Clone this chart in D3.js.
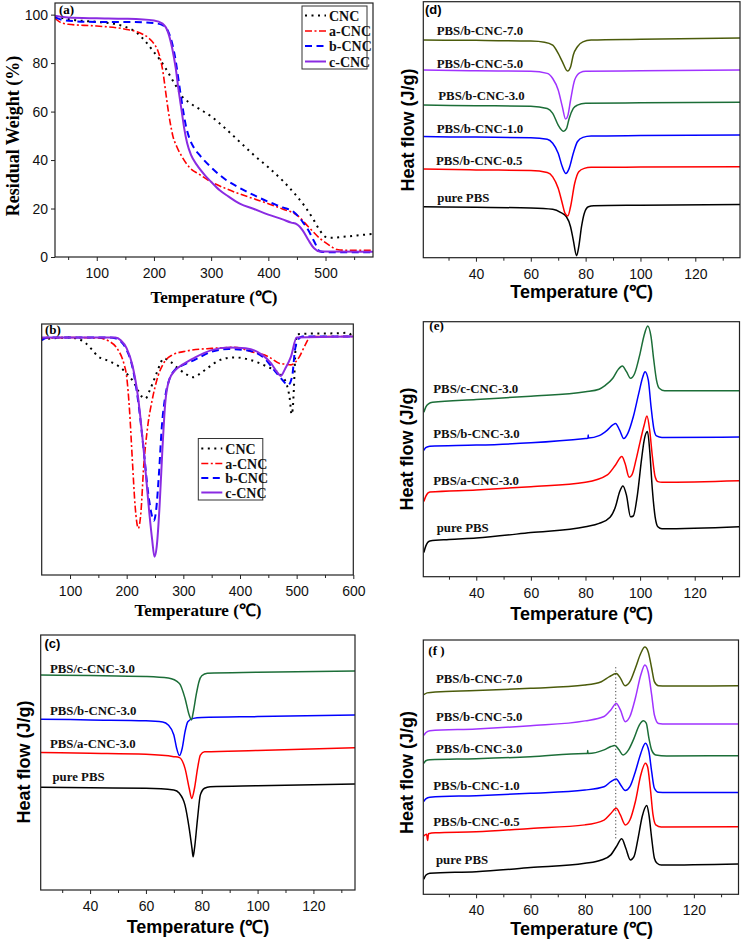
<!DOCTYPE html>
<html><head><meta charset="utf-8">
<script src="https://cdn.jsdelivr.net/npm/d3@7/dist/d3.min.js"></script>
<style>body{margin:0;background:#fff}</style>
</head><body>
<svg id="chart" width="742" height="944"></svg>
<script>
// ---------------- DATA ----------------
// (a) TGA: [temperature, residual weight %]
const tgaCNC = [[27,99.3],[40,98.6],[60,97.8],[100,97],[130,96.2],[150,95],[170,92.5],[185,89],[200,84.5],[210,81.5],[220,78],[230,74],[240,70],[250,66],[260,64],[280,61],[300,58],[325,53],[350,47.5],[375,42],[400,37],[425,31.5],[450,25],[465,20.5],[480,15],[490,11],[500,8.3],[510,7.9],[530,8.3],[555,8.9],[583,9.5]];
const tgaA = [[27,98.5],[35,97],[50,96],[100,95.3],[150,94],[175,92.5],[190,90.5],[200,88],[207,85],[212,81],[216,76],[220,69],[224,62],[228,56],[233,50],[240,45.5],[250,41],[262,37],[280,34],[300,31],[325,28.3],[350,26],[375,24],[400,22],[425,19.8],[450,17.3],[470,12.5],[490,7.7],[500,5.9],[510,4.3],[520,3.1],[535,2.8],[583,2.8]];
const tgaB = [[27,99],[40,97.8],[60,97.3],[100,97],[150,97],[200,96.5],[215,95.7],[225,93],[232,88],[238,81],[243,73],[248,65],[252,59],[256,54],[262,49],[270,45],[280,42],[300,37],[325,32],[350,28.5],[375,25.5],[400,22.8],[425,20.5],[445,18.5],[460,14.5],[470,11],[480,6.5],[490,2.4],[500,2],[583,2]];
const tgaC = [[27,99.5],[50,98.8],[100,98.5],[150,98.3],[200,97.6],[215,96.3],[225,92.5],[232,86],[238,78],[243,69],[248,61],[253,53],[258,47],[265,42],[275,38],[290,33.5],[300,31],[315,27.5],[330,25],[350,22],[375,19.8],[400,17.5],[425,15.5],[440,14.2],[450,13.5],[460,11],[470,7],[480,3.6],[490,2.3],[583,2.2]];

// (b) DTG: [temperature, relative signal]
const dtgCNC = [[50,93.9],[70,94.3],[100,94.6],[115,94],[127,92.5],[140,89.5],[150,87],[160,86],[171,85],[185,83.3],[194,81.7],[205,79],[212,77],[220,73.5],[227,71],[233,70.3],[241,73.7],[247,77],[253,80.5],[259,84],[265,86.3],[277,85],[290,82.5],[305,80],[318,78.8],[330,80.3],[342,82.3],[365,85.7],[389,86.7],[418,85.7],[448,83],[465,81],[475,79],[483,75.5],[488,70],[491,64],[493,66],[495,73.7],[498,90],[501,95.9],[530,96.2],[570,96.3],[590,96.5],[598,95.2]];
const dtgA = [[50,94.3],[100,94.6],[150,94.4],[170,93],[185,89.6],[195,84.3],[200,79],[205,65.7],[210,45.8],[215,27.2],[220.5,18.6],[225,24.6],[230,43.2],[237,59],[245,69.7],[255,79],[265,84.3],[280,87.6],[300,89],[350,90.3],[390,90.7],[420,89],[450,87],[470,84.3],[480,84],[490,83.7],[505,87],[515,91.6],[525,95],[600,95]];
const dtgB = [[50,93.5],[60,94.6],[100,94.6],[170,94.6],[180,94.3],[190,93],[200,89.6],[210,83],[220,69.7],[230,49.8],[238,32.5],[245,23.2],[248,21.6],[252,25.9],[257,40.5],[262,59],[268,71],[275,77.7],[285,81.7],[300,83.7],[320,85.7],[350,89],[380,90],[410,89.6],[440,87],[460,81.7],[475,77.7],[485,75.7],[492,79],[497,89.6],[502,93.6],[510,95],[600,95]];
const dtgC = [[50,94.6],[100,94.6],[180,94.6],[190,93.4],[200,90.3],[210,83.7],[220,71],[230,49.8],[240,24.6],[245,14],[249,7.3],[253,11.3],[258,27.2],[263,49.8],[268,68.4],[275,77.7],[285,81.4],[300,84],[320,86.6],[350,89.6],[380,90.6],[410,90.3],[440,87.6],[455,84.3],[465,81],[472,79.3],[480,82.3],[490,87],[500,94.6],[600,95]];

// (c) DSC cooling: [temperature, relative heat flow]
const cPure = [[22.3,40.3],[40,40.1],[60,39.9],[70,39.2],[72,37.9],[74,33.3],[75.5,24.2],[76.5,16.3],[76.9,13],[77.4,16.3],[78.5,28.1],[79.5,37.3],[81,39.9],[83,40.5],[100,40.9],[134.9,41.6]];
const cA = [[22.3,53.9],[40,53.6],[60,53.2],[70,52.3],[72,51.9],[74,47.7],[75.5,39.9],[76.4,35.9],[77.4,39.9],[78.5,47.7],[79.5,52.9],[81,54.2],[100,54.7],[134.9,55.8]];
const cB = [[22.3,67],[40,66.7],[60,66.4],[66,65.9],[68,64.7],[70,60.8],[71,55.6],[72,52.7],[73,55.6],[74,62],[75,66],[77,67.3],[80,67.6],[100,68],[134.9,68.6]];
const cC = [[22.3,84.3],[40,84.1],[60,83.7],[68,83.1],[72,81],[74,75.2],[75.5,68.6],[76.3,66.7],[77,70],[78,76.5],[79,81.7],[80,84],[82,85],[100,85.4],[134.9,85.9]];

// (d) DSC: [temperature, relative heat flow]
const dPure = [[20.8,19.9],[40,19.7],[60,19.4],[68,18.9],[71,17.6],[73,16],[74.5,12.1],[75.5,6.9],[76.7,0.8],[77.5,4.3],[78.5,12.1],[79.5,17.3],[81,19.9],[83,20.3],[100,20.5],[136.3,20.8]];
const d05 = [[20.8,34.6],[40,34.3],[60,34.1],[66,33.3],[68,31.6],[70,27.1],[71.5,21.2],[72.5,17.3],[73.5,16.3],[74.5,19.9],[76,29],[77.5,33.6],[79.5,34.9],[82,35.3],[100,35.4],[136.3,35.5]];
const d10 = [[20.8,47.3],[40,47.1],[60,46.9],[66,46.3],[68,44.7],[70,40.8],[71.5,35.5],[72.8,32.9],[74,34.9],[75.5,40.8],[77,45.3],[79,47],[82,47.5],[100,47.7],[136.3,47.9]];
const d30 = [[20.8,59.6],[40,59.4],[60,59.2],[66,58.3],[68,56.4],[70,51.8],[71.3,49.8],[72,49.4],[73,50.4],[74,54.4],[75.5,58.3],[77,59.6],[80,60.3],[100,60.5],[136.3,60.7]];
const d50 = [[20.8,73.3],[40,73],[60,72.8],[66,72],[68,70],[70,65.5],[71.5,59],[72.7,54.2],[73.5,55.5],[74.5,61.5],[76,69.4],[78,72.3],[80,72.8],[100,73],[136.3,73.3]];
const d70 = [[20.8,85],[40,84.9],[60,84.6],[65,84.2],[68,83],[70,79.8],[71.5,76.6],[73.4,72.9],[74.5,74.5],[75.5,79.2],[77,82.4],[79,84.3],[82,85],[100,85.3],[136.3,85.8]];

// (e) DSC heating: [temperature, relative heat flow]
const ePure = [[20.8,9.5],[21.5,12],[23,14],[30,14.6],[40,15.2],[60,17.3],[80,19.6],[85,20.9],[89,23.3],[91,27.5],[92.5,33.3],[93.7,35.6],[95,32],[96.5,23.5],[97.5,23.8],[99,32],[100.5,45.8],[101.5,53.6],[102.7,56.9],[103.5,49.7],[104.5,34],[105.5,23.5],[106.5,19.6],[108,18.8],[136.3,19.6]];
const eA = [[20.8,29.5],[21.5,31.5],[23,33.2],[40,34],[60,35.3],[80,37],[88,39.9],[91,43.8],[93.3,47.1],[94.5,44.4],[96,39],[97,39.9],[98.5,45.8],[100,52.9],[101.5,59.5],[102.5,63],[103.5,57.5],[104.5,47.1],[105.5,39.2],[106.5,37.3],[108,37],[136.3,37.6]];
const eB = [[20.8,49.5],[21.5,50.6],[23,51.2],[40,51.6],[60,52.5],[80,54.2],[80.9,54.3],[81,55.6],[81.1,54.4],[85,55.3],[88,57.5],[90,59.5],[91,60.1],[92.5,57.5],[94,54.2],[95.5,56.2],[97.5,62.7],[99.5,71.9],[101,78.4],[101.8,80.4],[103,77.1],[104,66.7],[105,58.2],[106,55.2],[108,54.6],[136.3,54.8]];
const eC = [[20.8,64.5],[21.5,66.5],[22.5,67.8],[24,68.4],[40,69.5],[60,70.8],[80,72.5],[85,73.5],[87,74.8],[90,77.8],[92,81.3],[93.5,82.6],[95,80.4],[96.5,77.8],[98,79.7],[100,87.6],[101.5,94.8],[102.8,98.3],[104,94.1],[105,85],[106,77.1],[107,73.9],[109,72.9],[136.3,72.9]];

// (f) DSC heating: [temperature, relative heat flow]
const fPure = [[20.8,5.9],[21.5,7.5],[23,8.3],[40,8.9],[60,10.5],[80,12.2],[86,13.5],[89.5,15.5],[91.5,18.7],[93.5,21.8],[95,18.1],[96.7,13.5],[98,14.8],[99.5,22],[101,30.5],[102.7,34.9],[103.5,31.2],[104.5,22],[105.5,14.2],[106.5,12.2],[108,11.5],[136.3,11.9]];
const f05 = [[20.8,23],[21.8,23.6],[22.2,21.2],[22.5,23.8],[25,24.2],[40,24.6],[60,25.9],[80,27.3],[87,29.2],[89.5,31.8],[91.5,33.8],[93,31.2],[94.8,27.3],[96.5,29.2],[98.5,36.4],[100.5,46.9],[102.2,51.5],[103,50.2],[104,41.7],[105,31.2],[106,27.3],[108,26.5],[136.3,26.6]];
const f10 = [[20.8,36.5],[21.5,37.5],[23,38.2],[40,38.8],[60,39.7],[80,41],[87,42.3],[89.5,44.3],[91.5,45.3],[93,43.2],[94.8,40.8],[96.5,42.3],[98.5,48.2],[100.5,55.4],[102.2,59.4],[103.5,56.1],[104.5,48.2],[105.5,41.7],[107,40.1],[110,40],[136.3,40]];
const f30 = [[20.8,51.5],[21.5,52.5],[23,52.9],[40,53.3],[60,54.1],[80,55.4],[80.9,55.4],[81,56.5],[81.1,55.4],[87,56.8],[89.5,58.1],[91,58.5],[92.5,56.8],[94,54.8],[96,56.8],[98,61.3],[100,66.6],[101.5,68.2],[102.5,67.3],[103.5,61.3],[104.5,56.7],[106,54.8],[110,54.4],[136.3,54.5]];
const f50 = [[20.8,62.5],[21.5,63.5],[23,64.3],[40,65],[60,66.3],[80,68.2],[87,69.9],[89.5,72.5],[91.5,75],[93,72.5],[94.8,67.9],[96.5,69.9],[98.5,77.1],[100.5,86.2],[102,90.2],[103.2,87.5],[104.5,78.4],[105.5,70.5],[107,67.2],[110,67],[136.3,67]];
const f70 = [[20.8,78.5],[22,79.2],[25,79.6],[40,80.1],[60,81],[80,82.3],[86,83.6],[89,85.6],[91.5,86.8],[93,85],[94.7,82],[96.5,83.6],[98.5,88.9],[100.5,94.8],[102,97.2],[103.2,95.4],[104.5,88.9],[105.5,83.6],[107,82],[110,81.9],[136.3,82]];
const fGuideTemp = 91.3;
const fGuideRange = [22, 89.5];

// tick labels
const ticksTGA = [100,200,300,400,500];
const minorTGA = [50,150,250,350,450,550];
const ticksTGAy = [0,20,40,60,80,100];
const ticksDTG = [100,200,300,400,500,600];
const minorDTG = [150,250,350,450,550];
const ticksDSC = [40,60,80,100,120];
const minorDSC = [30,50,70,90,110,130];

// series names
const cncNames = ["CNC","a-CNC","b-CNC","c-CNC"];
const cNames = ["pure PBS","PBS/a-CNC-3.0","PBS/b-CNC-3.0","PBS/c-CNC-3.0"];
const dNames = ["pure PBS","PBS/b-CNC-0.5","PBS/b-CNC-1.0","PBS/b-CNC-3.0","PBS/b-CNC-5.0","PBS/b-CNC-7.0"];

// ---------------- DRAW ----------------
const svg = d3.select("#chart");
svg.append("rect").attr("width",742).attr("height",944).attr("fill","#fff");
const SERIF = "'Liberation Serif','Times New Roman',serif";
const SANS = "'Liberation Sans',Arial,sans-serif";
const COL = {black:"#000",red:"#ff0000",blue:"#0000ff",violet:"#8a2be2",green:"#1c6e38",purple:"#a033ff",olive:"#4b5b0b"};

function makePanel(p){
  const g = svg.append("g");
  const x = d3.scaleLinear().domain(p.xd).range([p.l,p.r]);
  const y = d3.scaleLinear().domain(p.yd).range([p.b,p.t]);
  const ax = g.append("g").attr("transform",`translate(0,${p.b})`)
    .call(d3.axisBottom(x).tickValues(p.xt).tickSize(4).tickPadding(7).tickFormat(d3.format("d")));
  ax.select(".domain").remove();
  ax.selectAll("text").attr("font-family",SANS).attr("font-size",14).attr("fill","#111");
  ax.selectAll("line").attr("stroke","#222");
  if(p.xm){
    const am = g.append("g").attr("transform",`translate(0,${p.b})`)
      .call(d3.axisBottom(x).tickValues(p.xm).tickSize(3).tickFormat(""));
    am.select(".domain").remove(); am.selectAll("line").attr("stroke","#222");
  }
  if(p.yt){
    const ay = g.append("g").attr("transform",`translate(${p.l},0)`)
      .call(d3.axisLeft(y).tickValues(p.yt).tickSize(4).tickPadding(3).tickFormat(d3.format("d")));
    ay.select(".domain").remove();
    ay.selectAll("text").attr("font-family",SANS).attr("font-size",14).attr("fill","#111");
    ay.selectAll("line").attr("stroke","#222");
  }
  const clipId = "clip"+p.id;
  g.append("clipPath").attr("id",clipId).append("rect")
    .attr("x",p.l).attr("y",p.t-2).attr("width",p.r-p.l).attr("height",p.b-p.t+4);
  const line = d3.line().x(d=>x(d[0])).y(d=>y(d[1])).curve(d3.curveMonotoneX);
  const lg = g.append("g").attr("clip-path",`url(#${clipId})`);
  p.series.forEach(s=>{
    lg.append("path").attr("d",line(s.data)).attr("fill","none")
      .attr("stroke",s.color).attr("stroke-width",s.w||1.5)
      .attr("stroke-dasharray",s.dash||null).attr("stroke-linejoin","round");
  });
  g.append("rect").attr("x",p.l).attr("y",p.t).attr("width",p.r-p.l).attr("height",p.b-p.t)
    .attr("fill","none").attr("stroke","#222").attr("stroke-width",1.2);
  g.append("text").attr("x",p.tag[1]).attr("y",p.tag[2]).text(p.tag[0])
    .attr("font-family",p.tag[3]==="sans"?SANS:SERIF).attr("font-weight","bold").attr("font-size",13);
  g.append("text").attr("x",p.xtitle[1]).attr("y",p.xtitle[2]).attr("text-anchor","middle")
    .attr("font-family",p.serifTitle?SERIF:SANS).attr("font-weight","bold")
    .attr("font-size",p.serifTitle?17:18).text(p.xtitle[0]);
  if(p.ytitle){
    g.append("text").attr("transform",`translate(${p.ytitle[1]},${p.ytitle[2]}) rotate(-90)`)
      .attr("text-anchor","middle").attr("font-family",p.serifTitle?SERIF:SANS)
      .attr("font-weight","bold").attr("font-size",18).text(p.ytitle[0]);
  }
  if(p.labels){
    p.labels.forEach(lb=>{
      g.append("text").attr("x",lb[1]).attr("y",lb[2]).text(lb[0])
        .attr("font-family",SERIF).attr("font-weight","bold").attr("font-size",12.8).attr("fill","#111");
    });
  }
  return {g,x,y};
}

function legend(g, box, rows, entries){
  g.append("rect").attr("x",box[0]).attr("y",box[1]).attr("width",box[2]).attr("height",box[3])
    .attr("fill","#fff").attr("stroke","#333").attr("stroke-width",1);
  entries.forEach((e,i)=>{
    const yy = rows[i];
    g.append("line").attr("x1",box[0]+3).attr("x2",box[0]+24).attr("y1",yy).attr("y2",yy)
      .attr("stroke",e.color).attr("stroke-width",e.w||2).attr("stroke-dasharray",e.dash||null);
    g.append("text").attr("x",box[0]+27).attr("y",yy+5).text(e.name)
      .attr("font-family",SERIF).attr("font-weight","bold").attr("font-size",14).attr("fill","#111");
  });
}

const cncStyles = [
  {color:COL.black,dash:"2,4.5",w:2},
  {color:COL.red,dash:"7,2.5,2,2.5",w:1.6},
  {color:COL.blue,dash:"7,4.5",w:2},
  {color:COL.violet,w:2}
];

// (a)
const pa = makePanel({id:"a",l:55,r:373,t:3,b:257,xd:[27,583],yd:[0,104.8],xt:ticksTGA,xm:minorTGA,yt:ticksTGAy,
  series:[tgaCNC,tgaA,tgaB,tgaC].map((d,i)=>Object.assign({data:d},cncStyles[i])),
  tag:["(a)",59,14,"serif"],xtitle:["Temperature (℃)",214,303],ytitle:["Residual Weight (%)",19,136],serifTitle:true});
legend(pa.g,[302,6,65,63],[15.5,31,46,61.5],cncNames.map((n,i)=>Object.assign({name:n},cncStyles[i])));

// (b)
const pb = makePanel({id:"b",l:41.7,r:353.3,t:324,b:575,xd:[50,600],yd:[0,100],xt:ticksDTG,xm:minorDTG,
  series:[dtgCNC,dtgA,dtgB,dtgC].map((d,i)=>Object.assign({data:d},cncStyles[i])),
  tag:["(b)",45,334,"serif"],xtitle:["Temperature (℃)",198,616],serifTitle:true});
legend(pb.g,[198.3,438.5,64.5,61.5],[448.5,463.5,478,492.5],cncNames.map((n,i)=>Object.assign({name:n},cncStyles[i])));

// (c)
makePanel({id:"c",l:40.7,r:355,t:635,b:890,xd:[22.3,134.9],yd:[0,100],xt:ticksDSC,xm:minorDSC,
  series:[{data:cPure,color:COL.black},{data:cA,color:COL.red},{data:cB,color:COL.blue},{data:cC,color:COL.green}],
  tag:["(c)",44.5,648,"sans"],xtitle:["Temperature (℃)",198,933],ytitle:["Heat flow (J/g)",30,762],
  labels:[[cNames[3],50,673],[cNames[2],50,714.5],[cNames[1],50,748],[cNames[0],52.5,781]]});

// (d)
makePanel({id:"d",l:423.3,r:740,t:1.7,b:257.7,xd:[20.8,136.3],yd:[0,100],xt:ticksDSC,xm:minorDSC,
  series:[{data:dPure,color:COL.black},{data:d05,color:COL.red},{data:d10,color:COL.blue},{data:d30,color:COL.green},{data:d50,color:COL.purple},{data:d70,color:COL.olive}],
  tag:["(d)",425,13.5,"sans"],xtitle:["Temperature (℃)",581.7,298],ytitle:["Heat flow (J/g)",414,130],
  labels:[[dNames[5],436.7,35.3],[dNames[4],436.7,68],[dNames[3],438.3,100],[dNames[2],436.7,132.5],[dNames[1],436,165],[dNames[0],437.3,202]]});

// (e)
makePanel({id:"e",l:423.3,r:739.5,t:321.7,b:576.7,xd:[20.6,136.4],yd:[0,100],xt:ticksDSC,xm:minorDSC,
  series:[{data:ePure,color:COL.black},{data:eA,color:COL.red},{data:eB,color:COL.blue},{data:eC,color:COL.green}],
  tag:["(e)",429.3,330,"serif"],xtitle:["Temperature (℃)",581.7,620],ytitle:["Heat flow (J/g)",413,449],
  labels:[[cNames[3],433.3,393],[cNames[2],433.3,438],[cNames[1],433.3,484.7],[cNames[0],436.7,532]]});

// (f)
const pf = makePanel({id:"f",l:423.3,r:738.5,t:640,b:894.3,xd:[20.6,136.4],yd:[0,100],xt:ticksDSC,xm:minorDSC,
  series:[{data:fPure,color:COL.black},{data:f05,color:COL.red},{data:f10,color:COL.blue},{data:f30,color:COL.green},{data:f50,color:COL.purple},{data:f70,color:COL.olive}],
  tag:["(f )",428.3,655,"serif"],xtitle:["Temperature (℃)",581.7,935],ytitle:["Heat flow (J/g)",413,772.5],
  labels:[[dNames[5],436,683],[dNames[4],436,721],[dNames[3],436,752.5],[dNames[2],433.3,790],[dNames[1],433.3,826],[dNames[0],436,864]]});
pf.g.append("line").attr("x1",pf.x(fGuideTemp)).attr("x2",pf.x(fGuideTemp))
  .attr("y1",pf.y(fGuideRange[0])).attr("y2",pf.y(fGuideRange[1]))
  .attr("stroke","#444").attr("stroke-width",1).attr("stroke-dasharray","1.2,2.2");
</script>
</body></html>
